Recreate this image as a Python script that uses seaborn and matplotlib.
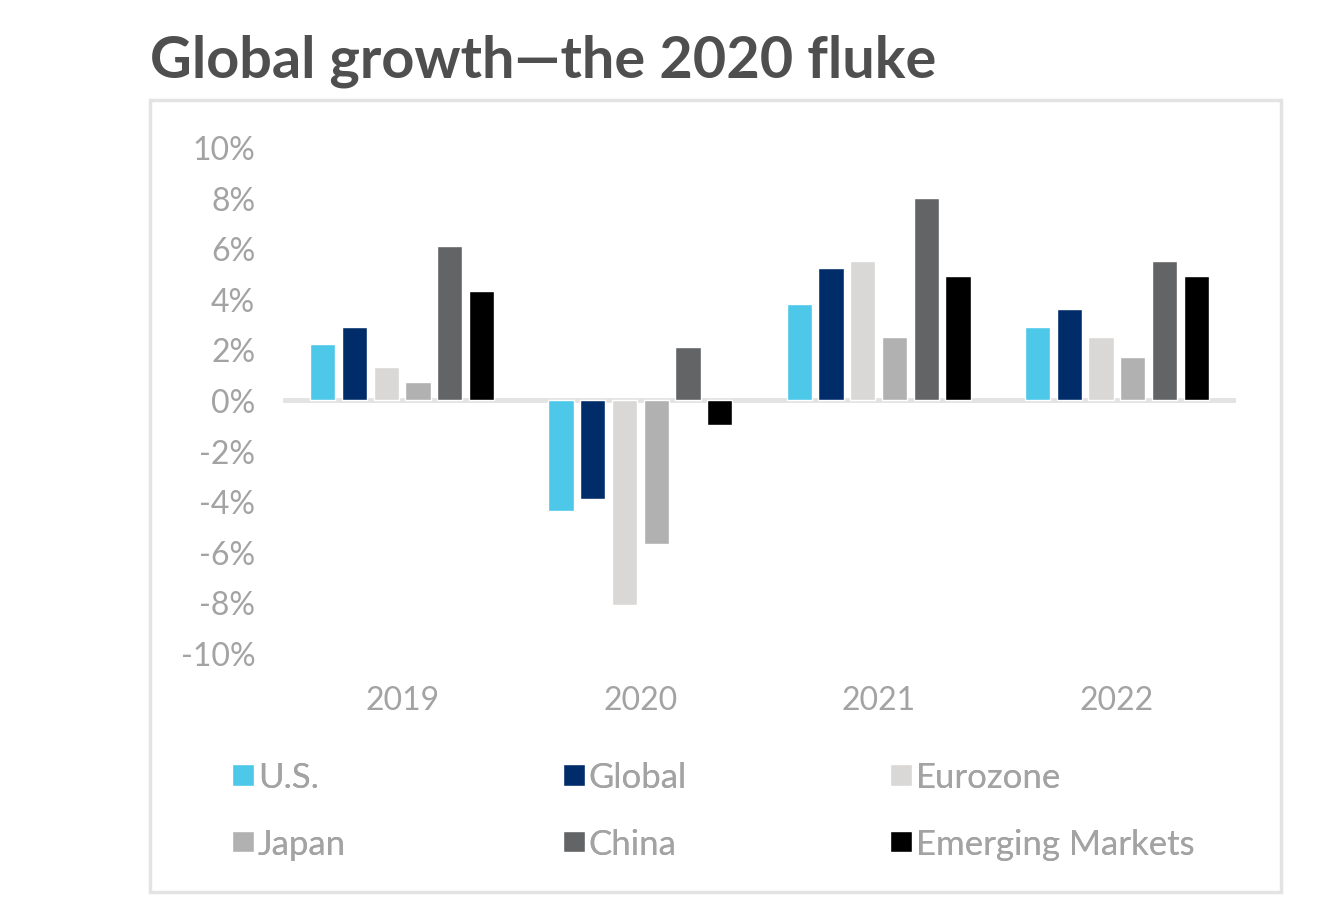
import numpy as np
import pandas as pd
import matplotlib
matplotlib.use("Agg")
import matplotlib.pyplot as plt
from matplotlib.patches import Patch, Rectangle
import seaborn as sns

# ---------- data ----------
years = ["2019", "2020", "2021", "2022"]
regions = ["U.S.", "Global", "Eurozone", "Japan", "China", "Emerging Markets"]
us = [2.2, -4.4, 3.8, 2.9]
global_ = [2.9, -3.9, 5.2, 3.6]
eurozone = [1.3, -8.1, 5.5, 2.5]
japan = [0.7, -5.7, 2.5, 1.7]
china = [6.1, 2.1, 8.0, 5.5]
em = [4.3, -1.0, 4.9, 4.9]
colors = ["#4dc8e9", "#002d6a", "#d9d8d6", "#b1b1b1", "#636466", "#000000"]

series = [us, global_, eurozone, japan, china, em]
df = pd.DataFrame(
    [(y, r, v) for r, vals in zip(regions, series) for y, v in zip(years, vals)],
    columns=["year", "region", "growth"],
)

sns.set_style("white")
plt.rcParams["font.family"] = ["Lato", "DejaVu Sans"]
txt_grey = "#a3a3a3"

W, H = 1342, 903
fig = plt.figure(figsize=(W / 100, H / 100), dpi=100)
ax = fig.add_axes([283 / W, 1 - 654 / H, (1236 - 283) / W, (654 - 148) / H])

sns.barplot(data=df, x="year", y="growth", hue="region", hue_order=regions,
            order=years, palette=colors, width=0.8, gap=0.2, saturation=1,
            legend=False, ax=ax)

ax.set_xlim(-0.5, 3.5)
ax.set_ylim(-10, 10)
ax.set_yticks(np.arange(-10, 11, 2))
ax.set_yticklabels([f"{t}%" for t in range(-10, 11, 2)])
ax.axhline(0, color="#e3e3e3", lw=3.5, zorder=0.5)
for s in ax.spines.values():
    s.set_visible(False)
ax.set_xlabel("")
ax.set_ylabel("")
ax.tick_params(axis="both", length=0, labelsize=23, labelcolor=txt_grey)
ax.tick_params(axis="y", pad=20)
ax.tick_params(axis="x", pad=23)

# frame around the chart
fig.add_artist(Rectangle((150 / W, 10 / H), (1281 - 150) / W, (893 - 101) / H,
                         transform=fig.transFigure, fill=False,
                         edgecolor="#e3e3e3", lw=2.5))

fig.text(150 / W, 1 - 78 / H, "Global growth\u2014the 2020 fluke",
         fontsize=41.5, fontweight="bold", color="#4f4f4f", va="baseline")

# legend: one small legend per column so the columns sit where they should
col_x = [232, 563, 890]
for c, x in enumerate(col_x):
    idx = [c, c + 3]
    handles = [Patch(facecolor=colors[i], label=regions[i]) for i in idx]
    leg = fig.legend(handles=handles, loc="upper left",
                     bbox_to_anchor=(x / W, 1 - 762 / H), frameon=False,
                     borderpad=0, borderaxespad=0,
                     fontsize=25, handlelength=0.62, handleheight=0.58,
                     handletextpad=0.12, labelspacing=1.0,
                     labelcolor=txt_grey)
    fig.add_artist(leg)

fig.savefig("out.png", dpi=100)
